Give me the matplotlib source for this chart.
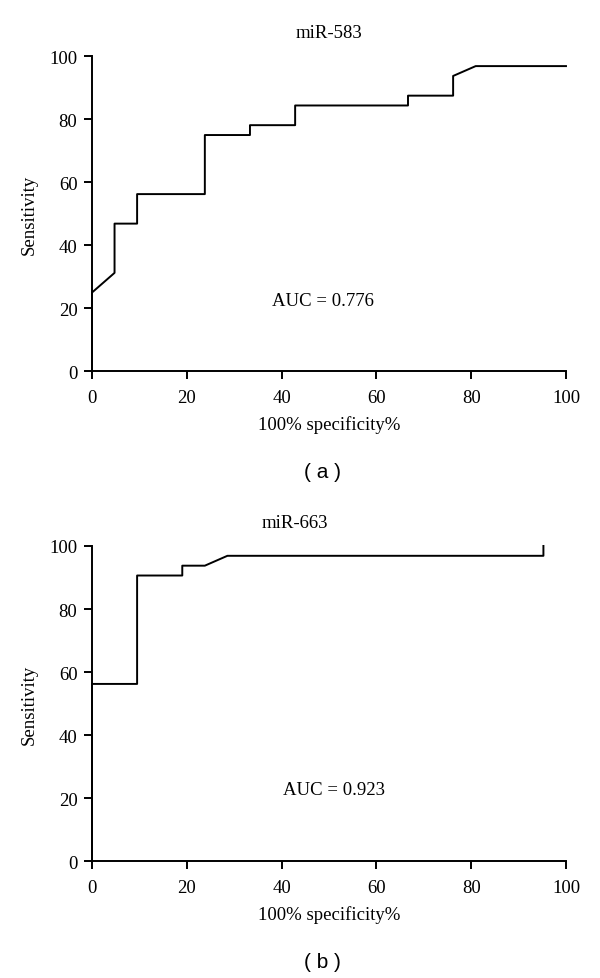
import matplotlib
matplotlib.use("Agg")
import matplotlib.pyplot as plt

# ROC curve points
spec_583 = [0, 0, 4.76, 4.76, 9.52, 9.52, 23.81, 23.81, 33.33, 33.33,
            42.86, 42.86, 66.67, 66.67, 76.19, 76.19, 80.95, 100]
sens_583 = [0, 25.0, 31.25, 46.88, 46.88, 56.25, 56.25, 75.0, 75.0, 78.13,
            78.13, 84.38, 84.38, 87.5, 87.5, 93.75, 96.88, 96.88]

spec_663 = [0, 0, 9.52, 9.52, 19.05, 19.05, 23.81, 28.57, 95.24, 95.24]
sens_663 = [0, 56.25, 56.25, 90.63, 90.63, 93.75, 93.75, 96.88, 96.88, 100]

titles = ["miR-583", "miR-663"]
auc_labels = ["AUC = 0.776", "AUC = 0.923"]
panel_tags = ["( a )", "( b )"]
ticks = [0, 20, 40, 60, 80, 100]

serif = "Liberation Serif"
fs = 13.5
lw = 1.4

fig = plt.figure(figsize=(6, 9.79), dpi=100)
ax_a = fig.add_axes([0.1533, 0.6197, 0.79, 0.3218])
ax_b = fig.add_axes([0.1533, 0.1192, 0.79, 0.3221])

panels = [(ax_a, spec_583, sens_583, 0.5, (48.7, 22.6), 473),
          (ax_b, spec_663, sens_663, 0.429, (51.0, 22.7), 963)]

for i, (ax, xs, ys, tx, auc_xy, tag_y) in enumerate(panels):
    ax.plot(xs, ys, color="black", lw=lw, clip_on=False, zorder=3)
    ax.set_xlim(0, 100)
    ax.set_ylim(0, 100)
    ax.set_xticks(ticks)
    ax.set_yticks(ticks)
    for s in ["top", "right"]:
        ax.spines[s].set_visible(False)
    for s in ["left", "bottom"]:
        ax.spines[s].set_linewidth(lw)
    ax.tick_params(length=5.5, width=lw, labelsize=fs)
    ax.tick_params(axis="x", pad=7)
    ax.tick_params(axis="y", pad=5)
    for lab in ax.get_xticklabels() + ax.get_yticklabels():
        lab.set_family(serif)
    ax.set_title(titles[i], x=tx, pad=14, fontsize=fs, family=serif)
    ax.text(auc_xy[0], auc_xy[1], auc_labels[i], ha="center", va="center",
            fontsize=fs, family=serif)
    ax.set_xlabel("100% specificity%", fontsize=fs, family=serif, labelpad=7)
    # y label centered on the axis
    bb = ax.get_position()
    fig.text(29 / 600, bb.y0 + bb.height / 2, "Sensitivity", rotation=90,
             ha="center", va="center", fontsize=fs, family=serif)
    fig.text(322 / 600, 1 - tag_y / 979, panel_tags[i], ha="center",
             va="center", fontsize=15, family="Liberation Sans")

fig.savefig("out.png", dpi=100)
